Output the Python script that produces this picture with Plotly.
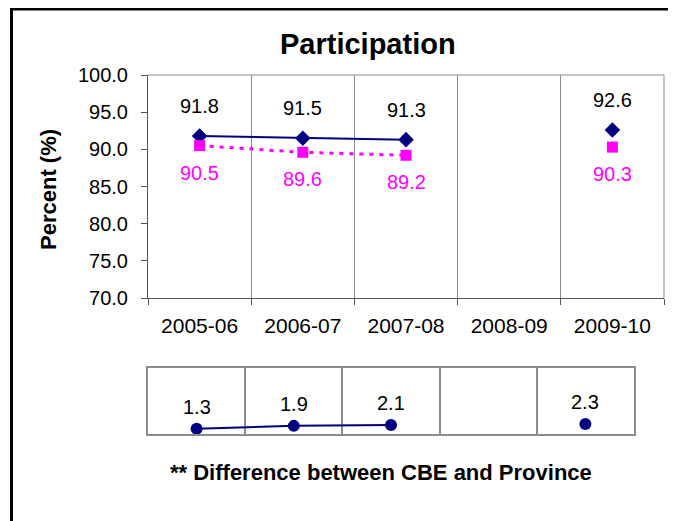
import plotly.graph_objects as go

categories = ["2005-06", "2006-07", "2007-08", "2008-09", "2009-10"]
cbe = [91.8, 91.5, 91.3, None, 92.6]
province = [90.5, 89.6, 89.2, None, 90.3]
difference = [1.3, 1.9, 2.1, None, 2.3]
y_ticks = [70, 75, 80, 85, 90, 95, 100]

OFF = 8  # page body margin
W, H = 668, 513
# plot area in page pixels
main_left, main_right, main_top, main_bot = 148, 664, 75, 298
lower_right, lower_top, lower_bot = 634, 368, 434

ML = main_left - OFF
MR = W - (main_right - OFF)
MT = main_top - OFF
MB = H - (lower_bot - OFF)
PW, PH = W - ML - MR, H - MT - MB

def px_x(px):
    return (px - OFF - ML) / PW

def px_y(py):
    return (H - MB - (py - OFF)) / PH

NAVY = "#000080"
MAG = "#FF00FF"
GRID = "#8c8c8c"
AX = "#555555"
FONT = "Liberation Sans, Arial, sans-serif"
cat_range = [-0.5, len(categories) - 0.5]

fig = go.Figure()
fig.add_trace(go.Scatter(x=categories, y=cbe, mode="lines+markers", connectgaps=False,
                         line=dict(color=NAVY, width=2),
                         marker=dict(symbol="diamond", size=12, color=NAVY),
                         xaxis="x", yaxis="y", showlegend=False))
fig.add_trace(go.Scatter(x=categories, y=province, mode="lines+markers", connectgaps=False,
                         line=dict(color=MAG, width=3, dash="4px,6px"),
                         marker=dict(symbol="square", size=11, color=MAG),
                         xaxis="x", yaxis="y", showlegend=False))
fig.add_trace(go.Scatter(x=categories, y=difference, mode="lines+markers", connectgaps=False,
                         line=dict(color=NAVY, width=2),
                         marker=dict(symbol="circle", size=12, color=NAVY),
                         xaxis="x2", yaxis="y2", showlegend=False))

annotations = []
for c, v in zip(categories, cbe):
    if v is not None:
        annotations.append(dict(x=c, y=v, xref="x", yref="y", text=f"{v:.1f}", showarrow=False,
                                yshift=30, font=dict(size=20, color="black", family=FONT)))
for c, v in zip(categories, province):
    if v is not None:
        annotations.append(dict(x=c, y=v, xref="x", yref="y", text=f"{v:.1f}", showarrow=False,
                                yshift=-27, font=dict(size=20, color=MAG, family=FONT)))
for c, v in zip(categories, difference):
    if v is not None:
        annotations.append(dict(x=c, y=v, xref="x2", yref="y2", text=f"{v:.1f}", showarrow=False,
                                yshift=22, font=dict(size=20, color="black", family=FONT)))

annotations.append(dict(x=px_x(48), y=px_y(190), xref="paper", yref="paper", text="<b>Percent (%)</b>",
                        textangle=-90, showarrow=False, xanchor="center", yanchor="middle",
                        font=dict(size=22, color="black", family=FONT)))
annotations.append(dict(x=px_x(381), y=px_y(473), xref="paper", yref="paper",
                        text="<b>** Difference between CBE and Province</b>",
                        showarrow=False, xanchor="center", yanchor="middle",
                        font=dict(size=22, color="black", family=FONT)))
annotations.append(dict(x=px_x(368), y=px_y(44), xref="paper", yref="paper",
                        text="<b>Participation</b>",
                        showarrow=False, xanchor="center", yanchor="middle",
                        font=dict(size=29, color="black", family=FONT)))

shapes = [
    # outer chart frame (extends beyond the visible area)
    dict(type="rect", xref="paper", yref="paper",
         x0=px_x(11.5), x1=px_x(760), y0=px_y(560), y1=px_y(9),
         line=dict(color="black", width=3), fillcolor="rgba(0,0,0,0)", layer="below"),
    # top and right border of main plot
    dict(type="line", xref="x domain", yref="y domain", x0=0, x1=1, y0=1, y1=1,
         line=dict(color=GRID, width=1)),
    dict(type="line", xref="x domain", yref="y domain", x0=1, x1=1, y0=0, y1=1,
         line=dict(color=GRID, width=1)),
]

fig.update_layout(
    width=W, height=H,
    margin=dict(l=ML, r=MR, t=MT, b=MB),
    paper_bgcolor="white", plot_bgcolor="white",
    font=dict(family=FONT, size=20, color="black"),
    showlegend=False,
    xaxis=dict(type="category", categoryorder="array", categoryarray=categories,
               range=cat_range, domain=[0, 1], anchor="y", tickson="boundaries",
               ticks="outside", ticklen=6,
               tickcolor=AX, showline=True, linecolor=AX, linewidth=1,
               showgrid=True, gridcolor=GRID, gridwidth=1,
               tickfont=dict(size=21), ticklabelstandoff=9),
    yaxis=dict(domain=[px_y(main_bot), px_y(main_top)], anchor="x", range=[70, 100],
               tickvals=y_ticks, tickformat=".1f", ticks="outside", ticklen=6, tickcolor=AX,
               showline=True, linecolor=AX, linewidth=1, showgrid=False, zeroline=False,
               tickfont=dict(size=20), ticklabelstandoff=9),
    xaxis2=dict(type="category", categoryorder="array", categoryarray=categories,
                range=cat_range, domain=[0, px_x(lower_right)], anchor="y2",
                tickson="boundaries", ticks="",
                showticklabels=False, showline=True, mirror=True, linecolor=GRID, linewidth=2,
                showgrid=True, gridcolor=GRID, gridwidth=2),
    yaxis2=dict(domain=[0, px_y(lower_top)], anchor="x2", range=[0.2, 14],
                showticklabels=False, ticks="", showline=True, mirror=True, linecolor=GRID,
                linewidth=2, showgrid=False, zeroline=False),
    annotations=annotations,
    shapes=shapes,
)

fig.write_html("out.html")
